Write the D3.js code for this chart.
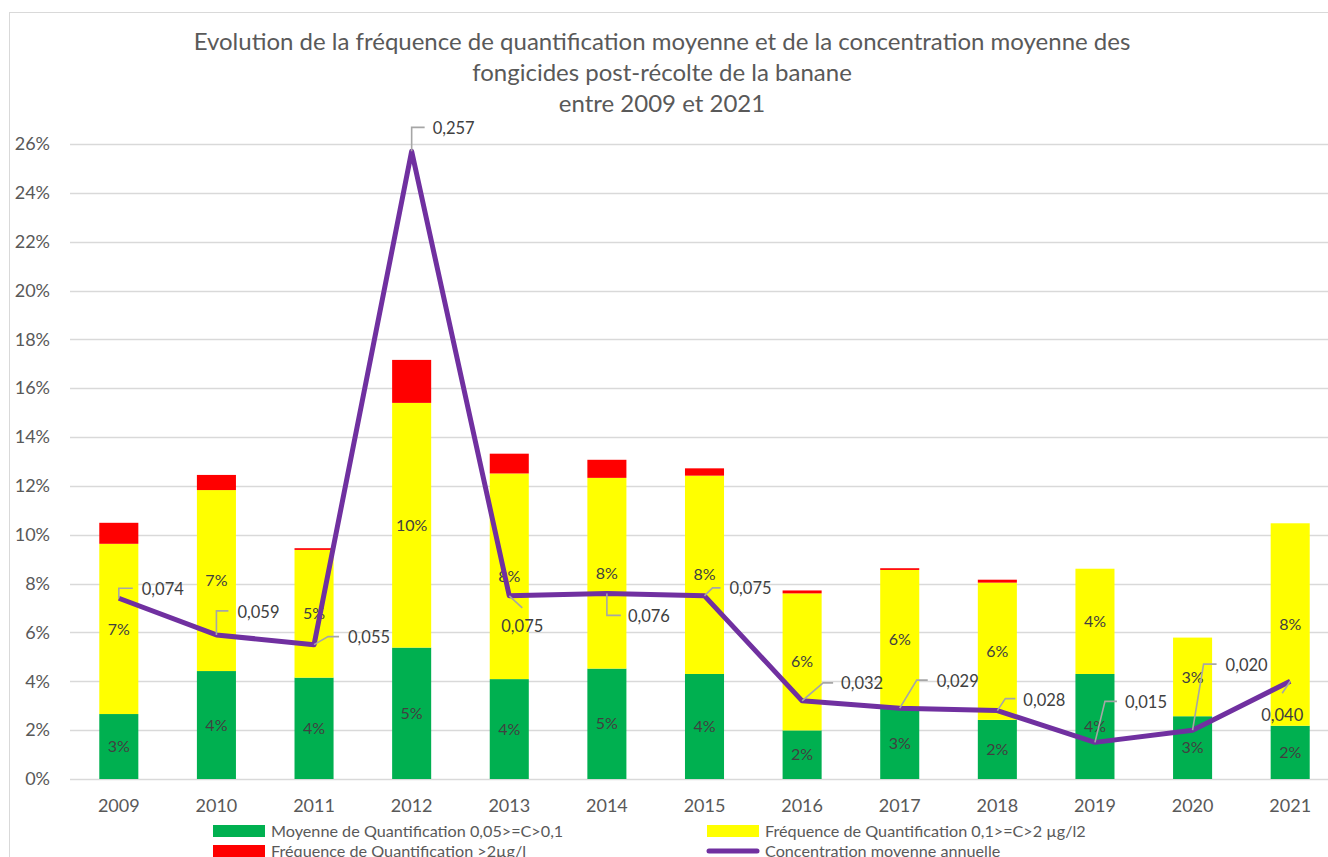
<!DOCTYPE html>
<html><head><meta charset="utf-8">
<script src="https://cdn.jsdelivr.net/npm/d3@7"></script>
<style>
html,body{margin:0;padding:0;background:#fff;overflow:hidden}
text{font-family:Lato,"Open Sans",sans-serif}
</style></head>
<body><svg id="chart" width="1328" height="857"></svg>
<script>
// ---- data ----
const years = ["2009","2010","2011","2012","2013","2014","2015","2016","2017","2018","2019","2020","2021"];
const greenPct  = [2.66, 4.42, 4.15, 5.38, 4.09, 4.52, 4.30, 1.99, 2.91, 2.42, 4.30, 2.57, 2.18];
const yellowPct = [6.97, 7.41, 5.23, 10.02, 8.42, 7.81, 8.12, 5.61, 5.65, 5.62, 4.31, 3.22, 8.29];
const redPct    = [0.86, 0.62, 0.07, 1.76, 0.81, 0.74, 0.30, 0.12, 0.07, 0.12, 0.00, 0.00, 0.00];
const concentration = [0.074, 0.059, 0.055, 0.257, 0.075, 0.076, 0.075, 0.032, 0.029, 0.028, 0.015, 0.020, 0.040];
const yTicks = [0, 0.02, 0.04, 0.06, 0.08, 0.10, 0.12, 0.14, 0.16, 0.18, 0.20, 0.22, 0.24, 0.26];
const titleLines = ["Evolution de la fréquence de quantification moyenne et de la concentration moyenne des",
                    "fongicides post-récolte de la banane",
                    "entre 2009 et 2021"];
const seriesNames = ["Moyenne de Quantification 0,05>=C>0,1",
                     "Fréquence de Quantification 0,1>=C>2 µg/l2",
                     "Fréquence de Quantification >2µg/l",
                     "Concentration moyenne annuelle"];

// ---- layout: callout geometry relative to each point ----
// [kind, elbow dx, elbow dy, end dx, text dx, text dy]
// kind "v": vertical then horizontal; "d": diagonal then horizontal; "s": single diagonal
const callouts = [
  ["v",  0,-10, 14, 23, -9],
  ["v",  0,-24, 12, 21,-23],
  ["d", 14, -8, 25, 34, -7],
  ["v",  0,-24, 13, 21,-23],
  ["s", 13, 12, 13, -8, 30],
  ["v",  0, 22, 14, 21, 23],
  ["d",  8, -8, 16, 25, -8],
  ["d", 21,-18, 31, 39,-18],
  ["d", 17,-28, 28, 37,-27],
  ["d",  8,-12, 18, 26,-10],
  ["d", 10,-41, 22, 30,-40],
  ["d", 11,-66, 24, 33,-65],
  ["s", -8, 12, -8,-29, 34]
];

const svg = d3.select("#chart");
const W = 1328, H = 857;
const colors = {green:"#00b050", yellow:"#ffff00", red:"#ff0000", line:"#7030a0"};
const textCol = "#595959";

// chart border
svg.append("rect").attr("x",9.5).attr("y",12.5).attr("width",W).attr("height",H)
  .attr("fill","#fff").attr("stroke","#d9d9d9").attr("stroke-width",1);

const x = d3.scaleBand().domain(years).range([70, 1339]).paddingInner(0.6).paddingOuter(0.3);
const y = d3.scaleLinear().domain([0, 0.26]).range([779, 144]);

// gridlines
svg.append("g").selectAll("line").data(yTicks).join("line")
  .attr("x1",70).attr("x2",1339)
  .attr("y1",d=>Math.round(y(d))+0.5).attr("y2",d=>Math.round(y(d))+0.5)
  .attr("stroke","#d9d9d9").attr("stroke-width",1.3);

// y axis
const yAxis = d3.axisLeft(y).tickValues(yTicks).tickFormat(d3.format(".0%")).tickSize(0).tickPadding(0);
const gy = svg.append("g").attr("transform","translate(50,0)").call(yAxis);
gy.select(".domain").remove();
gy.selectAll("text").attr("font-size",18).attr("fill",textCol).attr("font-family","Lato");

// x axis
const xAxis = d3.axisBottom(x).tickSize(0).tickPadding(0);
const gx = svg.append("g").attr("transform","translate(0,806)").call(xAxis);
gx.select(".domain").remove();
gx.selectAll("text").attr("font-size",18).attr("fill",textCol).attr("font-family","Lato").attr("dy","0.35em");

// stacked bars
const rows = years.map((yr,i)=>({year:yr, green:greenPct[i]/100, yellow:yellowPct[i]/100, red:redPct[i]/100}));
const keys = ["green","yellow","red"];
const stacked = d3.stack().keys(keys)(rows);
const gBars = svg.append("g");
stacked.forEach(layer=>{
  gBars.append("g").attr("fill",colors[layer.key]).selectAll("rect").data(layer).join("rect")
    .attr("x",d=>x(d.data.year)).attr("width",x.bandwidth())
    .attr("y",d=>y(d[1])).attr("height",d=>Math.max(0,y(d[0])-y(d[1])));
});

// bar labels (green, yellow)
const fmtPct = d3.format(".0%");
stacked.slice(0,2).forEach(layer=>{
  svg.append("g").selectAll("text").data(layer).join("text")
    .attr("x",d=>x(d.data.year)+x.bandwidth()/2)
    .attr("y",d=>(y(d[0])+y(d[1]))/2)
    .attr("text-anchor","middle").attr("dy","0.35em")
    .attr("font-size",16).attr("fill","#404040")
    .text(d=>fmtPct(d[1]-d[0]));
});

// line
const cx = i => x(years[i]) + x.bandwidth()/2;
const line = d3.line().x((d,i)=>cx(i)).y(d=>y(d));
svg.append("path").datum(concentration).attr("d",line)
  .attr("fill","none").attr("stroke",colors.line).attr("stroke-width",5).attr("stroke-linejoin","round");

// callout labels for line
const fr = d3.formatLocale({decimal:",",thousands:" ",grouping:[3],currency:["","€"]});
const fmtC = fr.format(".3f");
const gCall = svg.append("g");
concentration.forEach((v,i)=>{
  const px = cx(i), py = y(v);
  const [kind, ex, ey, endx, tx, ty] = callouts[i];
  let d;
  if (kind === "v") d = `M${px},${py}L${px},${py+ey}L${px+endx},${py+ey}`;
  else if (kind === "d") d = `M${px},${py}L${px+ex},${py+ey}L${px+endx},${py+ey}`;
  else d = `M${px},${py}L${px+ex},${py+ey}`;
  gCall.append("path").attr("d",d).attr("fill","none").attr("stroke","#a6a6a6").attr("stroke-width",1.6);
  gCall.append("text").attr("x",px+tx).attr("y",py+ty).attr("dy","0.35em")
    .attr("font-size",16.5).attr("fill","#404040").text(fmtC(v));
});

// title
svg.append("g").selectAll("text").data(titleLines).join("text")
  .attr("x",662).attr("y",(d,i)=>42+i*31).attr("dy","0.35em").attr("text-anchor","middle")
  .attr("font-size",24).attr("fill",textCol).text(d=>d);

// legend
const legendItems = [
  {name:seriesNames[0], type:"rect", color:colors.green, col:0, row:0},
  {name:seriesNames[1], type:"rect", color:colors.yellow, col:1, row:0},
  {name:seriesNames[2], type:"rect", color:colors.red, col:0, row:1},
  {name:seriesNames[3], type:"line", color:colors.line, col:1, row:1}];
const lg = svg.append("g").selectAll("g").data(legendItems).join("g")
  .attr("transform",d=>`translate(${d.col===0?213:707},${d.row===0?831:851})`);
lg.filter(d=>d.type==="rect").append("rect").attr("x",0).attr("y",-6).attr("width",52).attr("height",12).attr("fill",d=>d.color);
lg.filter(d=>d.type==="line").append("line").attr("x1",2).attr("x2",50).attr("y1",0).attr("y2",0)
  .attr("stroke",d=>d.color).attr("stroke-width",5).attr("stroke-linecap","round");
lg.append("text").attr("x",58).attr("dy","0.35em").attr("font-size",16.2).attr("fill",textCol).text(d=>d.name);
</script></body></html>
